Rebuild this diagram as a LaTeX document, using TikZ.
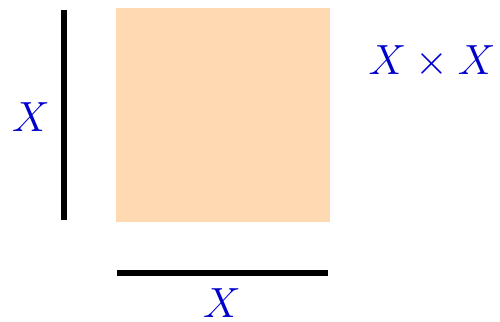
\documentclass[tikz,border=0pt]{standalone}
\usepackage{amsmath}
\tikzset{
    setlabel/.style={text=blue!80!black, font=\fontsize{12.6}{15}\selectfont},
    axisbar/.style={line width=1.5pt, black},
    product/.style={fill=orange!30, draw=none}
}
\begin{document}
\begin{tikzpicture}[x=0.01cm, y=-0.01cm]
    \useasboundingbox (0,0) rectangle (500,321);
    \fill[product] (116,8) rectangle (330,222);
    \coordinate (vtop) at (64,10);
    \coordinate (vbot) at (64,220);
    \coordinate (hleft) at (117,273);
    \coordinate (hright) at (328,273);
    \draw[axisbar] (vtop) -- (vbot);
    \draw[axisbar] (hleft) -- (hright);
    \node[setlabel] (xleft) at (31,117) {$X$};
    \node[setlabel] (xbottom) at (222,303) {$X$};
    \node[setlabel] (xprod) at (432,62) {$X \times X$};
\end{tikzpicture}
\end{document}
